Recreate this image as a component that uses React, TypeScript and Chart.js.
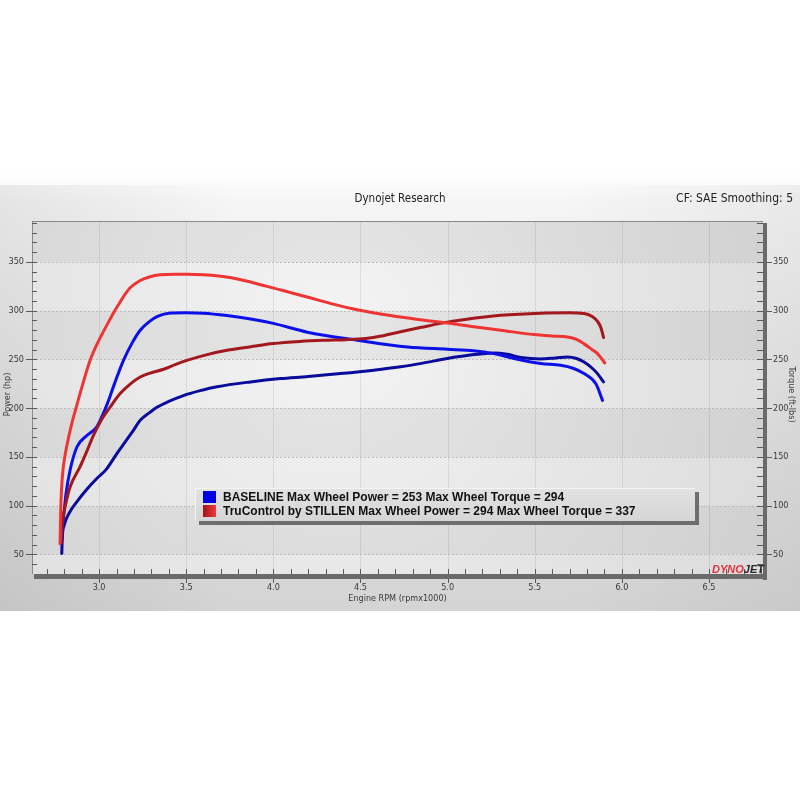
import React, { useEffect, useRef } from "react";
import { Chart, registerables } from "chart.js";
Chart.register(...registerables);

const TITLE = "Dynojet Research";
const SUBTITLE = "CF: SAE Smoothing: 5";
const X_TITLE = "Engine RPM (rpmx1000)";
const Y_LEFT_TITLE = "Power (hp)";
const Y_RIGHT_TITLE = "Torque (ft-lbs)";
const X_TICKS = [3.0, 3.5, 4.0, 4.5, 5.0, 5.5, 6.0, 6.5];
const Y_TICKS = [50, 100, 150, 200, 250, 300, 350];
const LEGEND_LABELS = [
  "BASELINE Max Wheel Power = 253 Max Wheel Torque = 294",
  "TruControl by STILLEN Max Wheel Power = 294 Max Wheel Torque = 337",
];

// Baseline torque (bright blue)
const baseTqRpm = [2.787, 2.791, 2.8, 2.81, 2.833, 2.872, 2.93, 2.987, 3.02, 3.048, 3.09, 3.14, 3.19, 3.236, 3.29, 3.332, 3.4, 3.5, 3.6, 3.734, 3.87, 4.0, 4.195, 4.483, 4.77, 5.0, 5.15, 5.266, 5.381, 5.534, 5.649, 5.72, 5.783, 5.851, 5.889];
const baseTq = [64, 78, 95, 112, 136, 160, 172, 181, 193, 205, 226, 249, 267, 280, 289, 294, 297.5, 298, 297.5, 295, 291.5, 287, 278, 269.7, 262.8, 260.5, 259, 256, 251, 245.8, 244, 241, 235.5, 225, 208];

// Baseline power (dark blue)
const basePwRpm = [2.786, 2.787, 2.789, 2.8, 2.83, 2.872, 2.93, 2.987, 3.04, 3.102, 3.16, 3.197, 3.236, 3.29, 3.332, 3.4, 3.484, 3.58, 3.676, 3.868, 4.04, 4.2, 4.385, 4.575, 4.73, 4.85, 4.998, 5.13, 5.266, 5.343, 5.42, 5.534, 5.62, 5.688, 5.74, 5.783, 5.83, 5.86, 5.895];
const basePw = [51, 58, 68, 80, 93, 104, 117, 128, 137, 153.5, 168, 177.4, 187.6, 195.5, 201, 207, 213, 218, 222, 227, 230.4, 232.5, 235.5, 239, 242.5, 246, 251, 254.5, 256.7, 255.3, 252, 250.5, 251.5, 252.5, 251, 247.4, 241, 235.5, 227];

// TruControl torque (bright red)
const tcTqRpm = [2.776, 2.778, 2.781, 2.786, 2.795, 2.81, 2.84, 2.872, 2.91, 2.948, 3.0, 3.044, 3.09, 3.121, 3.14, 3.178, 3.236, 3.293, 3.351, 3.437, 3.506, 3.6, 3.75, 3.964, 4.1, 4.194, 4.35, 4.481, 4.672, 4.83, 4.998, 5.15, 5.305, 5.496, 5.6, 5.688, 5.74, 5.783, 5.83, 5.86, 5.902];
const tcTq = [61, 80, 102, 122, 140, 157, 182, 203, 227, 249, 270, 285, 300, 309, 314.5, 323.5, 331, 334.8, 336.8, 337.4, 337.4, 336.8, 334, 325, 318.5, 314, 306.5, 301, 295, 291, 287.4, 283.5, 280, 275.5, 274, 273, 270.5, 266, 260, 256, 246.4];

// TruControl power (dark red)
const tcPwRpm = [2.783, 2.786, 2.791, 2.81, 2.833, 2.891, 2.93, 2.967, 3.01, 3.063, 3.121, 3.18, 3.236, 3.293, 3.37, 3.44, 3.504, 3.62, 3.734, 3.87, 4.0, 4.15, 4.287, 4.42, 4.53, 4.62, 4.73, 4.85, 4.96, 5.1, 5.305, 5.534, 5.7, 5.783, 5.83, 5.86, 5.879, 5.895];
const tcPw = [62, 75, 85, 103, 119, 140, 156, 172, 187, 201, 215, 225, 232, 236, 240, 245, 249, 255, 259.4, 263, 266.3, 268.5, 269.7, 270.3, 271.5, 274, 278.5, 283, 287, 291, 295.3, 297.5, 297.8, 297.2, 294, 289, 283, 272.5];

const SERIES = [
  { label: "TruControl Torque", rpm: tcTqRpm, val: tcTq, color: "#ef3434" },
  { label: "TruControl Power", rpm: tcPwRpm, val: tcPw, color: "#a3181c" },
  { label: "Baseline Torque", rpm: baseTqRpm, val: baseTq, color: "#0c10e8" },
  { label: "Baseline Power", rpm: basePwRpm, val: basePw, color: "#0a0a9c" },
];

const X_MIN = 2.615, X_MAX = 6.81, Y_MIN = 30, Y_MAX = 392;
const TICK_FONT = "9px 'DejaVu Sans Condensed', 'DejaVu Sans', sans-serif";

const bgPlugin = {
  id: "bgPlugin",
  beforeDraw(chart: any) {
    const ctx = chart.ctx;
    const { left, right, top, bottom } = chart.chartArea;
    const xS = chart.scales.x, yS = chart.scales.y;
    ctx.save();
    ctx.fillStyle = "#ffffff";
    ctx.fillRect(0, 0, chart.width, chart.height);
    const g = ctx.createLinearGradient(0, 170, 0, 611);
    g.addColorStop(0, "#ffffff");
    g.addColorStop(0.08, "#f5f5f5");
    g.addColorStop(1, "#d4d4d4");
    ctx.fillStyle = g;
    ctx.fillRect(0, 170, chart.width, 441);
    const h = ctx.createLinearGradient(0, 0, chart.width, 0);
    h.addColorStop(0, "rgba(0,0,0,0.07)");
    h.addColorStop(0.3, "rgba(0,0,0,0)");
    h.addColorStop(0.7, "rgba(0,0,0,0)");
    h.addColorStop(1, "rgba(0,0,0,0.05)");
    ctx.fillStyle = h;
    ctx.fillRect(0, 185, chart.width, 426);
    const pg = ctx.createRadialGradient(330, 330, 20, 330, 330, 520);
    pg.addColorStop(0, "#f3f3f3");
    pg.addColorStop(1, "#dadada");
    ctx.fillStyle = pg;
    ctx.fillRect(left, top, right - left, bottom - top);
    const bounds = [Y_MAX, ...Y_TICKS.slice().reverse(), Y_MIN];
    for (let i = 0; i < bounds.length - 1; i++) {
      if (i % 2 === 0) {
        const y1 = yS.getPixelForValue(bounds[i]);
        const y2 = yS.getPixelForValue(bounds[i + 1]);
        ctx.fillStyle = "rgba(0,0,0,0.05)";
        ctx.fillRect(left, y1, right - left, y2 - y1);
      }
    }
    ctx.strokeStyle = "rgba(0,0,0,0.08)";
    ctx.lineWidth = 1;
    X_TICKS.forEach((t) => {
      const x = Math.round(xS.getPixelForValue(t)) + 0.5;
      ctx.beginPath();
      ctx.moveTo(x, top);
      ctx.lineTo(x, bottom);
      ctx.stroke();
    });
    ctx.strokeStyle = "#bcbcbc";
    ctx.setLineDash([2, 2]);
    Y_TICKS.forEach((t) => {
      const y = Math.round(yS.getPixelForValue(t)) + 0.5;
      ctx.beginPath();
      ctx.moveTo(left, y);
      ctx.lineTo(right, y);
      ctx.stroke();
    });
    ctx.setLineDash([]);
    ctx.restore();
  },
  afterDraw(chart: any) {
    const ctx = chart.ctx;
    const { left, right, top, bottom } = chart.chartArea;
    const xS = chart.scales.x, yS = chart.scales.y, y2S = chart.scales.y2;
    ctx.save();
    ctx.strokeStyle = "#8a8a8a";
    ctx.lineWidth = 1;
    ctx.beginPath();
    ctx.moveTo(left, top + 0.5);
    ctx.lineTo(right, top + 0.5);
    ctx.moveTo(left + 0.5, top);
    ctx.lineTo(left + 0.5, bottom);
    ctx.stroke();
    ctx.fillStyle = "#6a6a6a";
    ctx.fillRect(right, top + 2, 4, bottom - top + 4);
    ctx.fillRect(left + 2, bottom, right - left + 2, 5);
    ctx.strokeStyle = "#5a5a5a";
    ctx.beginPath();
    for (let v = 40; v <= 390; v += 10) {
      const y = Math.round(yS.getPixelForValue(v)) + 0.5;
      ctx.moveTo(left, y);
      ctx.lineTo(left + 5, y);
      const y2 = Math.round(y2S.getPixelForValue(v)) + 0.5;
      ctx.moveTo(right - 6, y2);
      ctx.lineTo(right, y2);
      if (v % 50 === 0) {
        ctx.moveTo(left - 6, y);
        ctx.lineTo(left, y);
        ctx.moveTo(right + 4, y2);
        ctx.lineTo(right + 9, y2);
      }
    }
    for (let k = 27; k <= 68; k++) {
      const x = Math.round(xS.getPixelForValue(k / 10)) + 0.5;
      ctx.moveTo(x, bottom - 5);
      ctx.lineTo(x, bottom);
      if (k % 5 === 0) {
        ctx.moveTo(x, bottom + 5);
        ctx.lineTo(x, bottom + 9);
      }
    }
    ctx.stroke();
    ctx.fillStyle = "#3a3a3a";
    ctx.font = TICK_FONT;
    ctx.textBaseline = "middle";
    ctx.textAlign = "right";
    Y_TICKS.forEach((t) => ctx.fillText(String(t), left - 8, yS.getPixelForValue(t)));
    ctx.textAlign = "left";
    Y_TICKS.forEach((t) => ctx.fillText(String(t), right + 10, y2S.getPixelForValue(t)));
    ctx.textAlign = "center";
    X_TICKS.forEach((t) => ctx.fillText(t.toFixed(1), xS.getPixelForValue(t), bottom + 14));
    ctx.fillText(X_TITLE, (left + right) / 2, bottom + 25);
    const cy = (top + bottom) / 2 - 3;
    ctx.save();
    ctx.translate(8, cy);
    ctx.rotate(-Math.PI / 2);
    ctx.fillText(Y_LEFT_TITLE, 0, 0);
    ctx.restore();
    ctx.save();
    ctx.translate(791, cy);
    ctx.rotate(Math.PI / 2);
    ctx.fillText(Y_RIGHT_TITLE, 0, 0);
    ctx.restore();
    ctx.fillStyle = "#222";
    ctx.font = "11.5px 'DejaVu Sans Condensed', 'DejaVu Sans', sans-serif";
    ctx.textAlign = "center";
    ctx.fillText(TITLE, 400, 199);
    ctx.font = "12px 'DejaVu Sans Condensed', 'DejaVu Sans', sans-serif";
    ctx.textAlign = "right";
    ctx.fillText(SUBTITLE, 793, 199);
    const bx = 195, by = 488, bw = 500, bh = 33;
    ctx.fillStyle = "rgba(90,90,90,0.85)";
    ctx.fillRect(bx + 4, by + 4, bw, bh);
    const lg = ctx.createLinearGradient(bx, by, bx, by + bh);
    lg.addColorStop(0, "#e2e2e2");
    lg.addColorStop(1, "#d6d6d6");
    ctx.fillStyle = lg;
    ctx.fillRect(bx, by, bw, bh);
    ctx.strokeStyle = "#f4f4f4";
    ctx.beginPath();
    ctx.moveTo(bx + 0.5, by + bh);
    ctx.lineTo(bx + 0.5, by + 0.5);
    ctx.lineTo(bx + bw, by + 0.5);
    ctx.stroke();
    ctx.fillStyle = "#0000e4";
    ctx.fillRect(203, 491, 13, 12);
    const rg = ctx.createLinearGradient(203, 0, 216, 0);
    rg.addColorStop(0, "#a0141a");
    rg.addColorStop(1, "#f03a3a");
    ctx.fillStyle = rg;
    ctx.fillRect(203, 505, 13, 12);
    ctx.fillStyle = "#111";
    ctx.font = "bold 12px 'Liberation Sans', Arial, sans-serif";
    ctx.textAlign = "left";
    ctx.fillText(LEGEND_LABELS[0], 223, 497.5);
    ctx.fillText(LEGEND_LABELS[1], 223, 511.5);
    ctx.font = "italic bold 11px 'Liberation Sans', Arial, sans-serif";
    ctx.fillStyle = "#e3333d";
    ctx.fillText("DYNO", 712, 570);
    const w = ctx.measureText("DYNO").width;
    ctx.fillStyle = "#2a2a2a";
    ctx.fillText("JET", 712 + w, 570);
    ctx.restore();
  },
};

export default function App() {
  const ref = useRef<HTMLCanvasElement | null>(null);
  useEffect(() => {
    document.body.style.margin = "0";
    const canvas = ref.current;
    if (!canvas) return;
    const chart = new Chart(canvas, {
      type: "scatter",
      data: {
        datasets: SERIES.map((s) => ({
          label: s.label,
          data: s.rpm.map((r, i) => ({ x: r, y: s.val[i] })),
          showLine: true,
          borderColor: s.color,
          backgroundColor: s.color,
          borderWidth: 3,
          pointRadius: 0,
          pointHoverRadius: 0,
          cubicInterpolationMode: "monotone",
          fill: false,
          borderCapStyle: "round",
          borderJoinStyle: "round",
        })),
      },
      options: {
        animation: false,
        responsive: false,
        devicePixelRatio: 1,
        layout: { padding: { left: 32, top: 221, right: 37, bottom: 226 } },
        plugins: { legend: { display: false }, tooltip: { enabled: false }, title: { display: false } },
        scales: {
          x: { type: "linear", min: X_MIN, max: X_MAX, display: false },
          y: { type: "linear", min: Y_MIN, max: Y_MAX, display: false },
          y2: { type: "linear", position: "right", min: Y_MIN, max: Y_MAX, display: false },
        },
      },
      plugins: [bgPlugin],
    } as any);
    return () => chart.destroy();
  }, []);
  return (
    <div style={{ position: "absolute", left: 0, top: 0, width: 800, height: 800 }}>
      <canvas ref={ref} width={800} height={800} style={{ width: 800, height: 800, display: "block" }} />
    </div>
  );
}
